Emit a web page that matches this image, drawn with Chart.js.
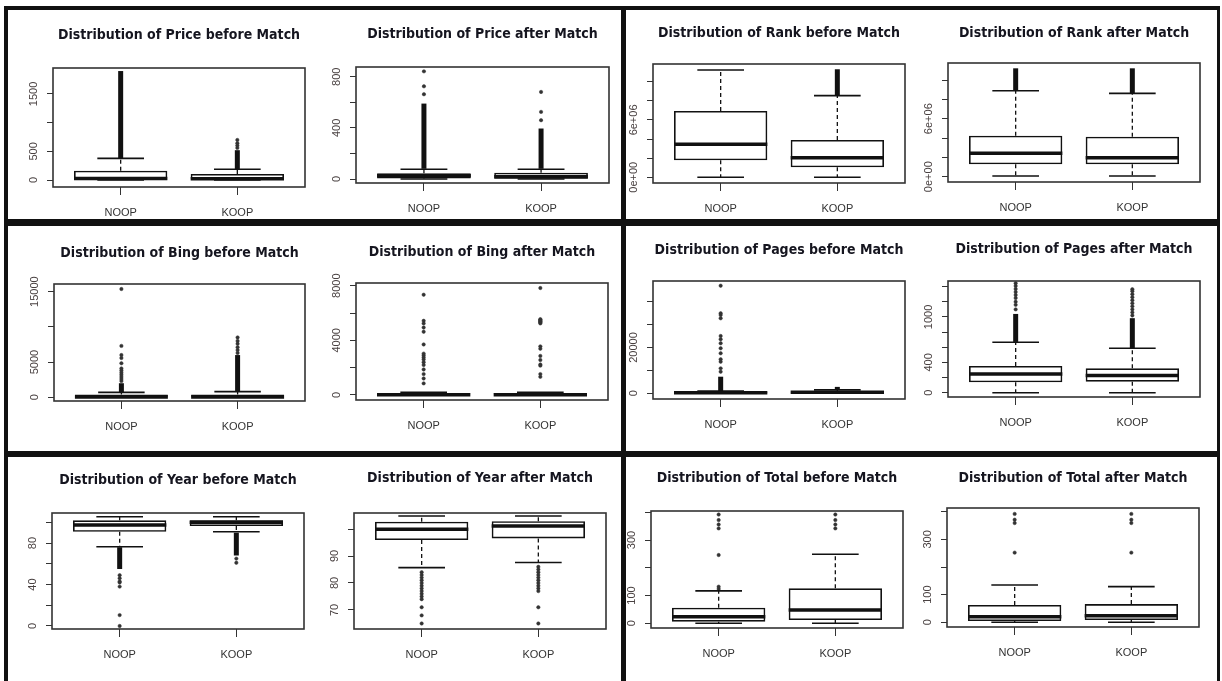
<!DOCTYPE html>
<html lang="en">
<head>
<meta charset="UTF-8" />
<title>Distributions before and after Match</title>
<script src="https://cdn.jsdelivr.net/npm/chart.js@4.4.0/dist/chart.umd.min.js"></script>
<style>
  body { margin: 0; width: 1222px; height: 681px; background: #fff; position: relative; overflow: hidden; }
  canvas { position: absolute; }
  .rule { position: absolute; background: #111; z-index: 2; }
</style>
</head>
<body>
<div class="rule" style="left:4px;top:6px;width:1216px;height:4px"></div>
<div class="rule" style="left:4px;top:6px;width:4px;height:675px"></div>
<div class="rule" style="left:1217px;top:6px;width:3px;height:675px"></div>
<div class="rule" style="left:621px;top:6px;width:5px;height:675px"></div>
<div class="rule" style="left:4px;top:219px;width:1216px;height:7px"></div>
<div class="rule" style="left:4px;top:451px;width:1216px;height:6px"></div>
<script>
const groups = ['NOOP', 'KOOP']

const titles = [
  'Distribution of Price before Match', 'Distribution of Price after Match',
  'Distribution of Rank before Match', 'Distribution of Rank after Match',
  'Distribution of Bing before Match', 'Distribution of Bing after Match',
  'Distribution of Pages before Match', 'Distribution of Pages after Match',
  'Distribution of Year before Match', 'Distribution of Year after Match',
  'Distribution of Total before Match', 'Distribution of Total after Match',
]

const yLimits = [
  [-122, 1953], [-31, 876], [-0.6e6, 11.85e6], [-0.55e6, 11.76e6],
  [-525, 16090], [-366, 8198], [-2489, 49040], [-57, 1475],
  [-2.9, 109], [62.96, 105.93], [-16.9, 404.7], [-17, 413.4],
]

const yTicks = [
  [0, 500, 1000, 1500], [0, 200, 400, 600, 800],
  [0, 2e6, 4e6, 6e6, 8e6, 1e7], [0, 2e6, 4e6, 6e6, 8e6, 1e7],
  [0, 5000, 10000, 15000], [0, 2000, 4000, 6000, 8000],
  [0, 10000, 20000, 30000, 40000], [0, 200, 400, 600, 800, 1000, 1200, 1400],
  [0, 20, 40, 60, 80, 100], [70, 80, 90, 100],
  [0, 100, 200, 300, 400], [0, 100, 200, 300, 400],
]

const yTickLabels = [
  ['0', '500', '', '1500'], ['0', '', '400', '', '800'],
  ['0e+00', '', '', '6e+06', '', ''], ['0e+00', '', '', '6e+06', '', ''],
  ['0', '5000', '', '15000'], ['0', '', '4000', '', '8000'],
  ['0', '', '20000', '', ''], ['0', '', '400', '', '', '1000', '', ''],
  ['0', '', '40', '', '80', ''], ['70', '80', '90', ''],
  ['0', '100', '', '300', ''], ['0', '100', '', '300', ''],
]

// [lower whisker, Q1, median, Q3, upper whisker] for NOOP, KOOP
const boxStats = [
  [[0, 2, 25, 162, 378], [0, 0, 22, 105, 187]],
  [[0, 5, 25, 45, 76], [0, 3, 18, 50, 76]],
  [[0, 1.78e6, 3.45e6, 6.94e6, 11.22e6], [0, 1.05e6, 2.05e6, 3.9e6, 8.54e6]],
  [[0.07e6, 1.28e6, 2.42e6, 4.24e6, 8.89e6], [0.07e6, 1.28e6, 1.96e6, 4.14e6, 8.62e6]],
  [[0, 0, 40, 400, 700], [0, 0, 50, 400, 800]],
  [[0, 0, 20, 120, 200], [0, 0, 20, 120, 200]],
  [[0, 50, 200, 600, 1000], [50, 200, 450, 800, 1500]],
  [[0, 137, 247, 353, 666], [0, 145, 226, 322, 587]],
  [[76.5, 90.9, 97.4, 101.9, 105.4], [90.9, 96.4, 100, 101.9, 105.4]],
  [[85.7, 95.9, 99.9, 102.7, 104.8], [87.6, 96.5, 101.1, 102.9, 104.8]],
  [[0, 6, 24, 56, 117], [0, 12, 48, 126, 249]],
  [[0, 4.7, 20, 62.6, 135], [0, 8, 24, 66, 129]],
]

// stretches where the outliers overlap into a solid column [from, to]
const denseOutliers = [
  [[[378, 1900]], [[187, 520]]],
  [[[80, 590]], [[80, 395]]],
  [[], [[8.54e6, 11.3e6]]],
  [[[8.89e6, 11.21e6]], [[8.62e6, 11.21e6]]],
  [[[700, 2000]], [[800, 6000]]],
  [[], []],
  [[[1000, 7250]], [[1500, 2800]]],
  [[[670, 1040]], [[590, 984]]],
  [[[55, 76]], [[68, 90]]],
  [[], []],
  [[], []],
  [[], []],
]

const outliers = [
  [[], [560, 600, 640, 698]],
  [[663, 725, 842], [460, 525, 681]],
  [[], []],
  [[], []],
  [[2300, 2600, 2900, 3200, 3500, 3800, 4100, 4830, 5580, 6000, 7300, 15380], [6300, 6700, 7100, 7600, 8000, 8500]],
  [[850, 1210, 1530, 1870, 2200, 2400, 2600, 2750, 2900, 3030, 3700, 4630, 4940, 5240, 5430, 7340],
   [1330, 1530, 2150, 2230, 2560, 2860, 3390, 3560, 5240, 5300, 5350, 5400, 5450, 5500, 5550, 7830]],
  [[9430, 10900, 13800, 14850, 17470, 19650, 21840, 23580, 25020, 32750, 34190, 34940, 46990], []],
  [[1100, 1160, 1200, 1250, 1290, 1330, 1370, 1410, 1446], [1020, 1060, 1100, 1140, 1180, 1220, 1260, 1300, 1340, 1366]],
  [[49, 46, 43, 42, 38, 10.5, 0], [65, 61]],
  [[84, 83, 82, 81, 80, 79, 78, 77, 76, 75, 74, 71, 68, 65], [86, 85, 84, 83, 82, 81, 80, 79, 78, 77, 71, 65]],
  [[124, 132, 246, 342, 356, 372, 392], [342, 356, 372, 392]],
  [[252, 359, 371, 392], [252, 359, 371, 392]],
]

// layout: plot box left, top, right, bottom and title centre y
const frames = [
  [53, 68, 305, 187, 35], [356, 67, 609, 183, 34], [653, 64, 905, 183, 33], [948, 63, 1200, 182, 33],
  [54, 284, 305, 401, 253], [356, 283, 608, 400, 252], [653, 281, 905, 399, 250], [948, 281, 1200, 397, 249],
  [52, 513, 304, 629, 480], [354, 513, 606, 629, 478], [651, 511, 903, 628, 478], [947, 508, 1199, 627, 478],
]

const tickFont = { family: '"Liberation Sans", Arial, sans-serif', size: 11 }
const titleFont = { family: '"Liberation Sans Narrow", "Arial Narrow", "DejaVu Sans Condensed", sans-serif', size: 14, weight: 'bold', lineHeight: 1.2 }
const measure = document.createElement('canvas').getContext('2d')
measure.font = 'normal 11px "Liberation Sans", Arial, sans-serif'

const line = (ctx, x1, y1, x2, y2) => {
  ctx.beginPath()
  ctx.moveTo(x1, y1)
  ctx.lineTo(x2, y2)
  ctx.stroke()
}

const boxParts = {
  id: 'boxParts',
  afterDatasetsDraw(chart, args, opts) {
    const { ctx, chartArea: a, scales: { x, y } } = chart
    ctx.save()
    ctx.strokeStyle = '#111'
    opts.stats.forEach((s, g) => {
      const cx = x.getPixelForValue(g + 1)
      const half = x.getPixelForValue(g + 1.4) - cx
      const [lo, q1, med, q3, hi] = s.map((v) => y.getPixelForValue(v))
      ctx.lineWidth = 1.3
      ctx.setLineDash([4, 3])
      line(ctx, cx, q3, cx, hi)
      line(ctx, cx, q1, cx, lo)
      ctx.setLineDash([])
      ctx.lineWidth = 1.6
      line(ctx, cx - half / 2, hi, cx + half / 2, hi)
      line(ctx, cx - half / 2, lo, cx + half / 2, lo)
      ctx.lineWidth = 3.5
      line(ctx, cx - half, med, cx + half, med)
    })
    ctx.lineWidth = 1.6
    ctx.strokeStyle = '#333'
    ctx.strokeRect(a.left, a.top, a.width, a.height)
    ctx.restore()
  },
}

frames.forEach(([L, T, R, B, titleY], i) => {
  const left = L - 40
  const top = T - 60
  const w = R - left + 8
  const h = B - top + 40
  const canvas = document.createElement('canvas')
  canvas.width = w
  canvas.height = h
  canvas.style.left = left + 'px'
  canvas.style.top = top + 'px'
  document.body.appendChild(canvas)

  const titleLine = titleFont.size * titleFont.lineHeight
  const padTop = titleY - top - titleLine / 2
  const widest = Math.max(...yTickLabels[i].map((s) => measure.measureText(s).width))

  const scatterData = []
  const denseData = []
  const boxData = []
  groups.forEach((name, g) => {
    outliers[i][g].forEach((v) => scatterData.push({ x: g + 1, y: v }))
    denseOutliers[i][g].forEach((r) => denseData.push({ x: g + 1, y: r }))
    boxData.push({ x: g + 1, y: [boxStats[i][g][1], boxStats[i][g][3]] })
  })

  new Chart(canvas.getContext('2d'), {
    type: 'bar',
    data: {
      datasets: [
        {
          type: 'scatter',
          data: scatterData,
          pointRadius: 1.7,
          pointBackgroundColor: '#333',
          pointBorderColor: '#333',
          pointBorderWidth: 0.5,
        },
        {
          data: denseData,
          grouped: false,
          maxBarThickness: 5,
          backgroundColor: '#111',
          borderWidth: 0,
        },
        {
          data: boxData,
          grouped: false,
          categoryPercentage: 0.8,
          barPercentage: 1,
          backgroundColor: 'rgba(255,255,255,0)',
          borderColor: '#111',
          borderWidth: 1.6,
          borderSkipped: false,
        },
      ],
    },
    options: {
      responsive: false,
      devicePixelRatio: 1,
      animation: false,
      layout: { padding: { left: 0, right: 8, top: 0, bottom: 0 } },
      plugins: {
        legend: { display: false },
        tooltip: { enabled: false },
        title: {
          display: true,
          text: titles[i],
          fullSize: false,
          color: '#15151f',
          font: titleFont,
          padding: { top: padTop, bottom: 60 - padTop - titleLine },
        },
        boxParts: { stats: boxStats[i] },
      },
      scales: {
        x: {
          type: 'linear',
          min: 0.42,
          max: 2.58,
          offset: false,
          bounds: 'data',
          afterBuildTicks: (s) => { s.ticks = [{ value: 1 }, { value: 2 }] },
          afterFit: (s) => { s.height = 40 },
          grid: { drawOnChartArea: false, offset: false, tickLength: 8, color: '#333', lineWidth: 1 },
          border: { display: false },
          ticks: {
            autoSkip: false,
            maxRotation: 0,
            padding: 11,
            color: '#333',
            font: tickFont,
            callback: (v) => groups[v - 1],
          },
        },
        y: {
          min: yLimits[i][0],
          max: yLimits[i][1],
          bounds: 'data',
          afterBuildTicks: (s) => { s.ticks = yTicks[i].map((v) => ({ value: v })) },
          afterFit: (s) => { s.width = 40 },
          grid: { drawOnChartArea: false, tickLength: 6, color: '#333', lineWidth: 1 },
          border: { display: false },
          ticks: {
            autoSkip: false,
            minRotation: 90,
            maxRotation: 90,
            crossAlign: 'center',
            padding: 19 - 6 - widest / 2,
            color: '#4a4242',
            font: tickFont,
            callback: (v, idx) => yTickLabels[i][idx],
          },
        },
      },
    },
    plugins: [boxParts],
  })
})
</script>
</body>
</html>
